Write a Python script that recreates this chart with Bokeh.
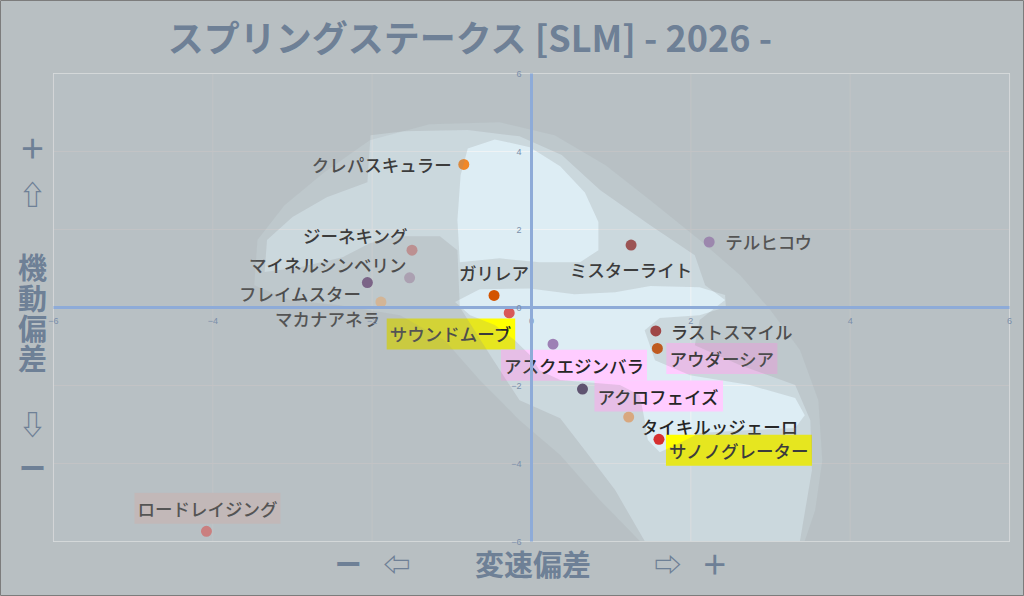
import numpy as np
from bokeh.plotting import figure
from bokeh.models import ColumnDataSource, FixedTicker, Label
from bokeh.core.properties import value
from bokeh.embed import file_html
from bokeh.resources import INLINE

FONT = "Noto Sans CJK JP"
LABEL_FONT = "'Noto Sans CJK JP Medium', 'Noto Sans CJK JP'"

# ---------------- data ----------------
horses = ["クレパスキュラー", "ジーネキング", "マイネルシンベリン", "フレイムスター",
          "マカナアネラ", "ガリレア", "サウンドムーブ", "アスクエジンバラ",
          "ミスターライト", "テルヒコウ", "ラストスマイル", "アウダーシア",
          "アクロフェイズ", "タイキルッジェーロ", "サノノグレーター", "ロードレイジング"]
speed_dev = [-0.85, -1.50, -1.53, -2.06, -1.89, -0.47, -0.28, 0.27,
             1.25, 2.23, 1.56, 1.58, 0.64, 1.22, 1.60, -4.08]
mobility_dev = [3.67, 1.47, 0.76, 0.64, 0.14, 0.31, -0.14, -0.94,
                1.60, 1.68, -0.60, -1.05, -2.09, -2.81, -3.38, -5.74]
highlight = ["", "", "", "", "", "", "yellow", "pink",
             "", "", "", "pink", "pink", "", "yellow", "grey"]

axis_ticks = [-6, -4, -2, 0, 2, 4, 6]

# density regions (outlines in data units)
outer_x = [-3.48, -3.44, -3.10, -2.60, -2.03, -1.28, -0.40, 0.29, 0.93, 1.49, 2.11, 2.62, 3.00,
           3.37, 3.60, 3.65, 3.56, 3.43, 1.36, 0.86, 0.36, -0.15, -0.65, -1.09, -1.65, -2.41, -3.04]
outer_y = [0.57, 1.73, 2.62, 3.47, 4.29, 4.70, 4.75, 4.42, 3.65, 2.75, 1.73, 0.83, -0.07,
           -1.09, -2.38, -3.92, -5.20, -5.99, -5.99, -4.94, -3.78, -2.89, -1.86, -0.84, -0.20, 0.06, 0.19]
mid_x = [-3.35, -3.32, -3.00, -2.57, -2.06, -2.02, -1.60, -0.80, -0.15, 0.38, 0.86, 1.49, 2.05,
         2.18, 2.43, 2.11, 2.05, 2.62, 3.31, 3.50, 3.52, 3.37, 1.42, 1.05, 0.67, 0.36, -0.15,
         -0.52, -0.90, -0.93, -1.15, -1.66, -2.03, -2.37, -2.91]
mid_y = [0.91, 1.73, 2.32, 2.83, 3.21, 4.42, 4.52, 4.55, 4.39, 3.91, 3.01, 2.11, 1.34,
         0.57, 0.19, -0.32, -0.97, -1.48, -1.99, -2.89, -4.17, -5.99, -5.99, -4.68, -3.66, -2.84, -2.38,
         -1.22, 0.01, 1.47, 1.83, 1.83, 1.65, 1.29, 1.03]
core_a_x = [-0.90, -0.93, -0.89, -0.80, -0.46, -0.02, 0.36, 0.67, 0.84, 0.84, 0.61, 0.10, -0.40]
core_a_y = [1.16, 2.24, 3.39, 4.08, 4.31, 4.11, 3.62, 2.95, 2.19, 1.47, 1.16, 1.16, 1.26]
core_b_x = [-0.96, -0.65, -0.02, 0.54, 1.05, 1.49, 2.11, 2.43, 2.44, 2.11, 1.61, 1.42, 1.55, 1.99,
            2.74, 3.31, 3.43, 3.31, 2.68, 2.11, 1.80, 1.61, 1.46, 1.42, 1.36, 1.11, 0.73, 0.36,
            0.10, -0.02, -0.21, -0.46, -0.77]
core_b_y = [0.14, 0.47, 0.49, 0.34, 0.39, 0.55, 0.52, 0.32, 0.01, -0.20, -0.27, -0.58, -1.35, -1.74,
            -1.99, -2.32, -2.76, -3.09, -3.15, -3.22, -3.53, -3.71, -3.40, -2.89, -2.25, -1.99, -1.92, -1.86,
            -1.61, -1.22, -0.84, -0.45, -0.20]

title_text = "スプリングステークス [SLM]  - 2026 -"
x_caption = ["ー", "⇦", "変速偏差", "⇨", "＋"]
y_caption = ["＋", "⇧", "機", "動", "偏", "差", "⇩", "ー"]

# ---------------- layout / styles ----------------
point_colors = ["#f08828", "#da9394", "#bfadc7", "#704b85", "#ffce9c", "#d35400", "#d85858", "#9d80b5",
                "#a04444", "#a985cb", "#a53232", "#ce4c00", "#524368", "#eeb07c", "#d63030", "#ff7474"]
box_colors = {"yellow": "#ffff00", "pink": "#ffccff", "grey": "#efdede"}
label_align = ["right", "right", "right", "right", "right", "center", "right", "center",
               "center", "left", "left", "left", "left", "left", "left", "center"]
label_dx = [-9, -1, 0, -3, 2, 0, 6, 21, 0, 13, 12, 9, 12, 9, 7, 1]
label_dy = [0, -15, -13, 11, 16, -23, 21, 21, 24, 0, 1, 10, 7, 9, 11, -23]
x_caption_pos = [-2.30, -1.69, 0.02, 1.71, 2.30]
y_caption_pos = [4.11, 2.93, 1.06, 0.26, -0.51, -1.27, -2.97, -4.09]
x_caption_row = -6.56
y_caption_col = -6.264

BG = "#b8bfc2"
CAPTION = "#6e8096"

p = figure(width=1024, height=596, output_backend="svg", toolbar_location=None,
           x_range=(-6.665, 6.188), y_range=(-7.41, 7.872),
           min_border=0)
p.background_fill_color = BG
p.border_fill_color = BG
p.outline_line_color = "#7c7c7c"
p.grid.visible = False

for ax in (p.xaxis, p.yaxis):
    ax.fixed_location = 0
    ax.bounds = (axis_ticks[0], axis_ticks[-1])
    ax.ticker = FixedTicker(ticks=axis_ticks)
    ax.axis_line_color = "#8eabd8"
    ax.axis_line_width = 3
    ax.major_tick_line_color = None
    ax.minor_tick_line_color = None
    ax.major_label_text_font_size = "9px"
    ax.major_label_text_color = "#7a8eaa"
    ax.major_label_standoff = 4
p.yaxis.major_label_orientation = "horizontal"

lo, hi = axis_ticks[0], axis_ticks[-1]
n = len(axis_ticks)

# plot area
p.quad(left=[lo], right=[hi], bottom=[lo], top=[hi], fill_color="#ddedf4", line_color=None, level="underlay")
# grid lines restricted to the plot area
p.segment(x0=axis_ticks, y0=[lo] * n, x1=axis_ticks, y1=[hi] * n, line_color="#eff3f5", line_width=1)
p.segment(x0=[lo] * n, y0=axis_ticks, x1=[hi] * n, y1=axis_ticks, line_color="#eff3f5", line_width=1)

src = ColumnDataSource(dict(x=speed_dev, y=mobility_dev, name=horses, color=point_colors,
                            align=label_align, dx=label_dx, dy=label_dy,
                            box=[box_colors.get(h, "#000000") for h in highlight],
                            boxa=[1.0 if h else 0.0 for h in highlight]))

p.scatter("x", "y", source=src, size=11, fill_color="color", line_color=None)
p.text("x", "y", text="name", source=src, x_offset="dx", y_offset="dy",
       text_align="align", text_baseline="middle", text_font=value(LABEL_FONT),
       text_font_size="17.5px", text_color="#262626",
       background_fill_color="box", background_fill_alpha="boxa", padding=3)

# grey veil with lighter density regions
fx = [lo, hi, hi, lo]
fy = [lo, lo, hi, hi]
veil_xs = [[[fx, outer_x]], [[fx, mid_x]], [[fx, core_a_x, core_b_x]]]
veil_ys = [[[fy, outer_y]], [[fy, mid_y]], [[fy, core_a_y, core_b_y]]]
p.multi_polygons(veil_xs, veil_ys, fill_color="#8c8c8c", fill_alpha=[0.12, 0.21, 0.22], line_color=None)

# title and axis captions
def cap(x, y, t, size):
    p.add_layout(Label(x=x, y=y, text=t, text_font=FONT, text_font_size=size, text_font_style="bold",
                       text_color=CAPTION, text_align="center", text_baseline="middle"))

cap(-0.716, 6.97, title_text, "36px")
for t, xx in zip(x_caption, x_caption_pos):
    cap(xx, x_caption_row, t, "29px" if len(t) > 1 else "27px")
for t, yy in zip(y_caption, y_caption_pos):
    cap(y_caption_col, yy, t, "27px" if t in "＋ー⇧⇩" else "29px")

open("out.html", "w").write(file_html(p, INLINE))
